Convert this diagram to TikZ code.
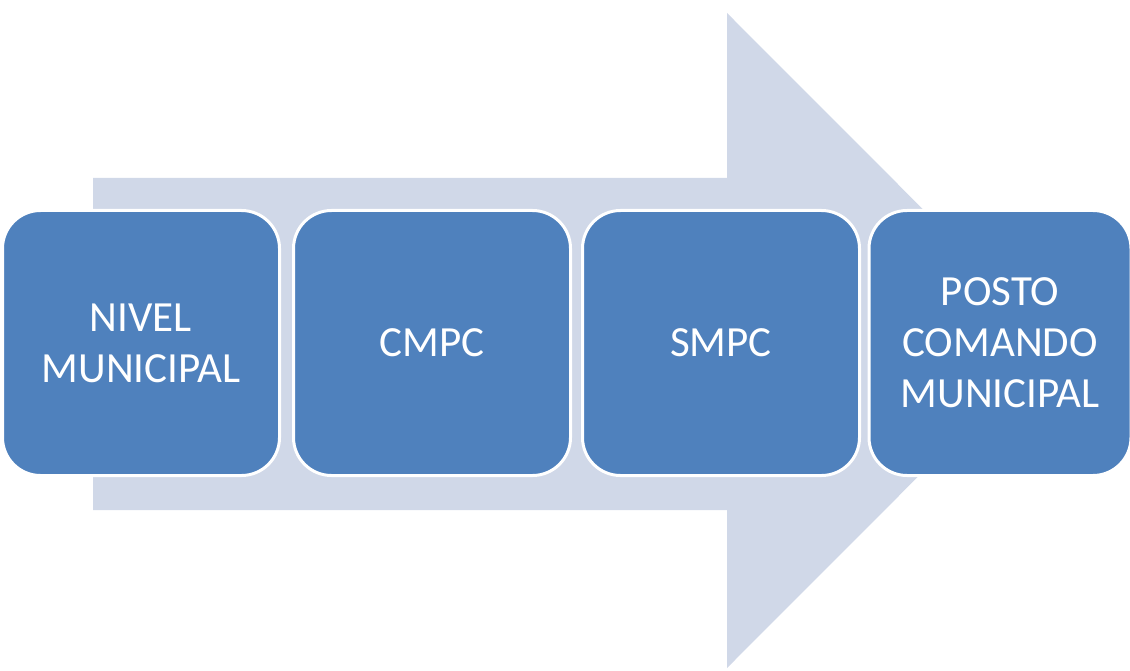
\documentclass[tikz,border=0pt]{standalone}
\usepackage{fontspec}
\setmainfont{Carlito}
\definecolor{arrowfill}{HTML}{D0D8E8}
\definecolor{boxfill}{HTML}{4F81BD}
\begin{document}
\begin{tikzpicture}[x=1pt,y=-1pt,
  stepbox/.style={draw=white,line width=3pt,fill=boxfill,rounded corners=38pt,
    minimum width=277pt,minimum height=265pt,inner sep=0pt,text=white,
    font=\fontsize{43}{51}\selectfont,align=center,text width=260pt}]
\useasboundingbox (0,0) rectangle (1130,671);
\fill[arrowfill] (93,178) -- (727,178) -- (727,13) -- (1054,340.5) -- (727,668) -- (727,510) -- (93,510) -- cycle;
\node[stepbox] (n1) at (141,343) {NIVEL\\MUNICIPAL};
\node[stepbox] (n2) at (432,343) {CMPC};
\node[stepbox] (n3) at (721,343) {SMPC};
\node[stepbox,minimum width=262pt] (n4) at (1000,343) {POSTO\\COMANDO\\MUNICIPAL};
\end{tikzpicture}
\end{document}
